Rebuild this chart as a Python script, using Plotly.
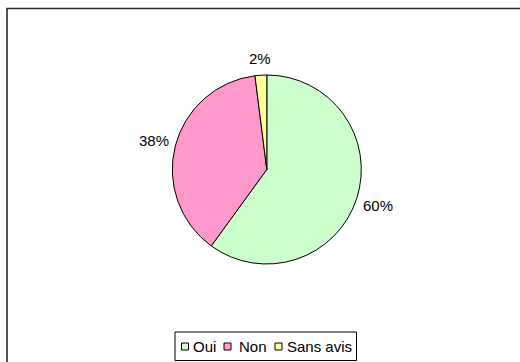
import math
import plotly.graph_objects as go

# Survey answers and their shares (%)
labels = ["Oui", "Non", "Sans avis"]
values = [60, 38, 2]
colors = ["#CCFFCC", "#FF99CC", "#FFFF99"]

W, H = 520, 362
FONT = "Liberation Sans, Arial"
FS = 15


def px(x):
    return x / W


def py(y):
    return 1 - y / H


# Pie geometry (pixels)
cx, cy, r = 266.8, 169.5, 94.5

fig = go.Figure(
    go.Pie(
        labels=labels,
        values=values,
        sort=False,
        direction="clockwise",
        rotation=0,
        marker=dict(colors=colors, line=dict(color="black", width=1)),
        textinfo="none",
        domain=dict(x=[px(cx - r), px(cx + r)], y=[py(cy + r), py(cy - r)]),
        showlegend=False,
        hoverinfo="label+percent",
    )
)

shapes = [
    # chart area frame
    dict(type="rect", xref="paper", yref="paper",
         x0=px(7), x1=px(530), y0=py(372), y1=py(8.5),
         line=dict(color="#2a2a2a", width=1.6), fillcolor="rgba(0,0,0,0)"),
    # legend box
    dict(type="rect", xref="paper", yref="paper",
         x0=px(175), x1=px(356.5), y0=py(360.5), y1=py(332),
         line=dict(color="black", width=1), fillcolor="white"),
]
annotations = []

# Percentage labels placed just outside each slice, at its mid angle
total = sum(values)
cum = 0.0
gap, half_h = 5.0, 11.0
char_w = {"%": 0.889}
for v in values:
    theta = math.radians((cum + v / 2) / total * 360)
    cum += v
    ux, uy = math.sin(theta), -math.cos(theta)
    txt = f"{round(v / total * 100)}%"
    half_w = sum(char_w.get(c, 0.556) for c in txt) * FS / 2
    d = r + gap + half_w * abs(ux) + half_h * abs(uy)
    annotations.append(dict(text=txt, xref="paper", yref="paper",
                            x=px(cx + d * ux), y=py(cy + d * uy),
                            xanchor="center", yanchor="middle", showarrow=False,
                            font=dict(family=FONT, size=FS, color="black")))

# Legend entries: swatch x position and text x position
swatch_x = [181.5, 224, 275]
text_x = [190.5, 236.5, 284.5]
ly = 346.5
for lab, col, sx, tx in zip(labels, colors, swatch_x, text_x):
    shapes.append(dict(type="rect", xref="paper", yref="paper",
                       x0=px(sx), x1=px(sx + 7), y0=py(ly + 3.5), y1=py(ly - 3.5),
                       line=dict(color="black", width=1), fillcolor=col))
    annotations.append(dict(text=lab, xref="paper", yref="paper",
                            x=px(tx), y=py(ly), xanchor="left", yanchor="middle",
                            showarrow=False,
                            font=dict(family=FONT, size=FS, color="black")))

fig.update_layout(
    width=W, height=H,
    margin=dict(l=0, r=0, t=0, b=0),
    paper_bgcolor="white",
    plot_bgcolor="white",
    shapes=shapes,
    annotations=annotations,
)

fig.write_html("out.html")
